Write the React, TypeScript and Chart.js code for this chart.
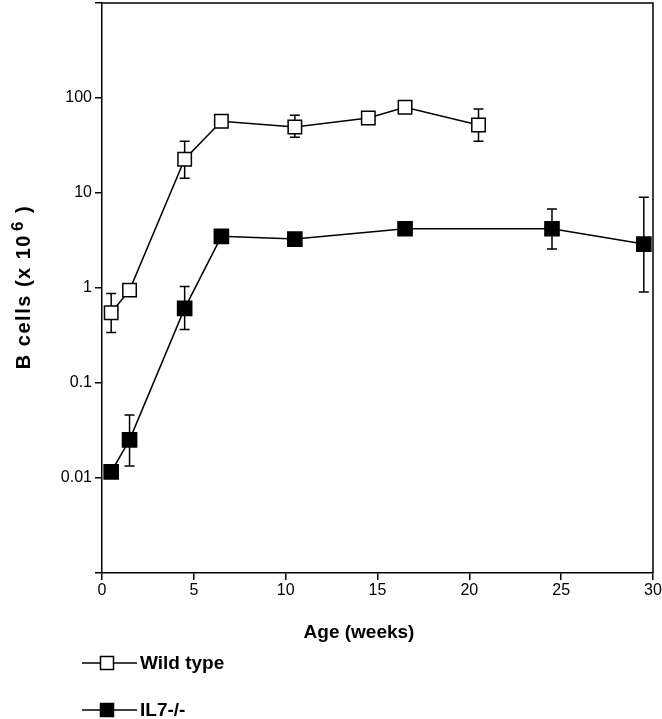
import React, { useEffect, useRef } from "react";
import { Chart, registerables } from "chart.js";

Chart.register(...registerables);

const weeksWT = [0.5, 1.5, 4.5, 6.5, 10.5, 14.5, 16.5, 20.5];
const wildType = [0.55, 0.95, 22.7, 57, 49.5, 61.5, 80, 52];
const wtUpper = [0.875, null, 35, null, 66, null, null, 76.5];
const wtLower = [0.34, null, 14.3, null, 38.7, null, null, 35];

const weeksIL7 = [0.5, 1.5, 4.5, 6.5, 10.5, 16.5, 24.5, 29.5];
const il7 = [0.0116, 0.0252, 0.61, 3.5, 3.27, 4.2, 4.2, 2.9];
const il7Upper = [null, 0.046, 1.04, null, null, null, 6.8, 9.0];
const il7Lower = [null, 0.0134, 0.365, null, null, null, 2.57, 0.905];

const yTickValues = [0.001, 0.01, 0.1, 1, 10, 100, 1000];
const yTickLabels: Record<string, string> = { "0.01": "0.01", "0.1": "0.1", "1": "1", "10": "10", "100": "100" };
const xTickLabels = ["0", "5", "10", "15", "20", "25", "30"];

const seriesNames = ["Wild type", "IL7-/-"];
const xTitle = "Age (weeks)";
const yTitleMain = "B cells (x 10";
const yTitleSup = "6";
const yTitleEnd = " )";

const FONT = "'Liberation Sans', Arial, Helvetica, sans-serif";

export default function App() {
  const ref = useRef<HTMLCanvasElement>(null);
  useEffect(() => {
    if (!ref.current) return;
    const errorSets = [
      { xs: weeksWT, ys: wildType, up: wtUpper, lo: wtLower },
      { xs: weeksIL7, ys: il7, up: il7Upper, lo: il7Lower },
    ];
    const extras = {
      id: "extras",
      beforeDatasetsDraw(chart: any) {
        const ctx = chart.ctx;
        const xs = chart.scales.x;
        const ys = chart.scales.y;
        ctx.save();
        ctx.strokeStyle = "#000";
        ctx.lineWidth = 1.5;
        const cap = 5;
        errorSets.forEach((s) => {
          s.xs.forEach((xv, i) => {
            const px = xs.getPixelForValue(xv);
            const c = ys.getPixelForValue(s.ys[i]);
            [s.up[i], s.lo[i]].forEach((v) => {
              if (v == null) return;
              const py = ys.getPixelForValue(v);
              ctx.beginPath();
              ctx.moveTo(px, c);
              ctx.lineTo(px, py);
              ctx.moveTo(px - cap, py);
              ctx.lineTo(px + cap, py);
              ctx.stroke();
            });
          });
        });
        ctx.restore();
      },
      afterDraw(chart: any) {
        const ctx = chart.ctx;
        const a = chart.chartArea;
        ctx.save();
        ctx.strokeStyle = "#000";
        ctx.lineWidth = 1.5;
        ctx.beginPath();
        ctx.moveTo(a.left, a.top);
        ctx.lineTo(a.right, a.top);
        ctx.lineTo(a.right, a.bottom);
        ctx.stroke();
        ctx.fillStyle = "#000";
        ctx.font = `bold 19px ${FONT}`;
        ctx.textAlign = "center";
        ctx.textBaseline = "middle";
        ctx.fillText(xTitle, 359, 633);
        // y title
        ctx.translate(30, 287);
        ctx.rotate(-Math.PI / 2);
        (ctx as any).letterSpacing = "1.5px";
        ctx.font = `bold 20px ${FONT}`;
        const w1 = ctx.measureText(yTitleMain).width;
        const w3 = ctx.measureText(yTitleEnd).width;
        ctx.font = `bold 17px ${FONT}`;
        const w2 = ctx.measureText(yTitleSup).width;
        const gap = 3;
        const x0 = -(w1 + w2 + w3 + gap) / 2;
        ctx.textAlign = "left";
        ctx.textBaseline = "alphabetic";
        ctx.font = `bold 20px ${FONT}`;
        ctx.fillText(yTitleMain, x0, 0);
        ctx.font = `bold 17px ${FONT}`;
        ctx.fillText(yTitleSup, x0 + w1 + gap, -7);
        ctx.font = `bold 20px ${FONT}`;
        ctx.fillText(yTitleEnd, x0 + w1 + w2 + gap, 0);
        ctx.restore();
        // legend
        ctx.save();
        const rows = [663, 710];
        rows.forEach((y, i) => {
          ctx.strokeStyle = "#000";
          ctx.lineWidth = 1.5;
          ctx.beginPath();
          ctx.moveTo(82, y);
          ctx.lineTo(137, y);
          ctx.stroke();
          ctx.fillStyle = i === 0 ? "#fff" : "#000";
          ctx.fillRect(100.5, y - 6.5, 13, 13);
          ctx.strokeRect(100.5, y - 6.5, 13, 13);
          ctx.fillStyle = "#000";
          ctx.font = `bold 19px ${FONT}`;
          ctx.textAlign = "left";
          ctx.textBaseline = "middle";
          ctx.fillText(seriesNames[i], 140, y + 1);
        });
        ctx.restore();
      },
    };

    const chart = new Chart(ref.current, {
      type: "line",
      data: {
        datasets: [
          {
            label: seriesNames[0],
            data: weeksWT.map((x, i) => ({ x, y: wildType[i] })),
            borderColor: "#000",
            borderWidth: 1.5,
            backgroundColor: "#fff",
            pointStyle: "rect",
            pointRadius: 9.5,
            pointBorderWidth: 1.5,
            pointBackgroundColor: "#fff",
            pointBorderColor: "#000",
            tension: 0,
            clip: false as any,
          },
          {
            label: seriesNames[1],
            data: weeksIL7.map((x, i) => ({ x, y: il7[i] })),
            borderColor: "#000",
            borderWidth: 1.5,
            backgroundColor: "#000",
            pointStyle: "rect",
            pointRadius: 10,
            pointBorderWidth: 1.5,
            pointBackgroundColor: "#000",
            pointBorderColor: "#000",
            tension: 0,
            clip: false as any,
          },
        ],
      },
      options: {
        animation: false,
        responsive: false,
        maintainAspectRatio: false,
        layout: { autoPadding: false, padding: { top: 3, right: 9, left: 0, bottom: 0 } },
        plugins: { legend: { display: false }, tooltip: { enabled: false }, title: { display: false } },
        scales: {
          x: {
            type: "linear",
            min: 0,
            max: 30,
            afterFit(scale: any) {
              scale.height = 146;
              scale.paddingLeft = 0;
              scale.paddingRight = 0;
            },
            afterBuildTicks(scale: any) {
              scale.ticks = xTickLabels.map((t) => ({ value: Number(t) }));
            },
            ticks: {
              color: "#000",
              font: { family: FONT, size: 16 },
              padding: 1,
              maxRotation: 0,
              callback: (v: any) => String(v),
            },
            grid: { drawOnChartArea: false, drawTicks: true, tickLength: 7, color: "#000", lineWidth: 1.5 },
            border: { display: true, color: "#000", width: 1.5 },
          },
          y: {
            type: "logarithmic",
            min: 0.001,
            max: 1000,
            afterFit(scale: any) {
              scale.width = 102;
              scale.paddingTop = 0;
              scale.paddingBottom = 0;
            },
            afterBuildTicks(scale: any) {
              scale.ticks = yTickValues.map((v) => ({ value: v }));
            },
            ticks: {
              color: "#000",
              font: { family: FONT, size: 16 },
              padding: 3,
              autoSkip: false,
              callback: (v: any) => yTickLabels[String(v)] ?? "",
            },
            grid: { drawOnChartArea: false, drawTicks: true, tickLength: 7, color: "#000", lineWidth: 1.5 },
            border: { display: true, color: "#000", width: 1.5 },
          },
        },
      },
      plugins: [extras],
    });
    return () => chart.destroy();
  }, []);

  return (
    <div style={{ position: "fixed", left: 0, top: 0, width: 662, height: 719, background: "#fff" }}>
      <canvas ref={ref} width={662} height={719} style={{ width: 662, height: 719, display: "block" }} />
    </div>
  );
}
